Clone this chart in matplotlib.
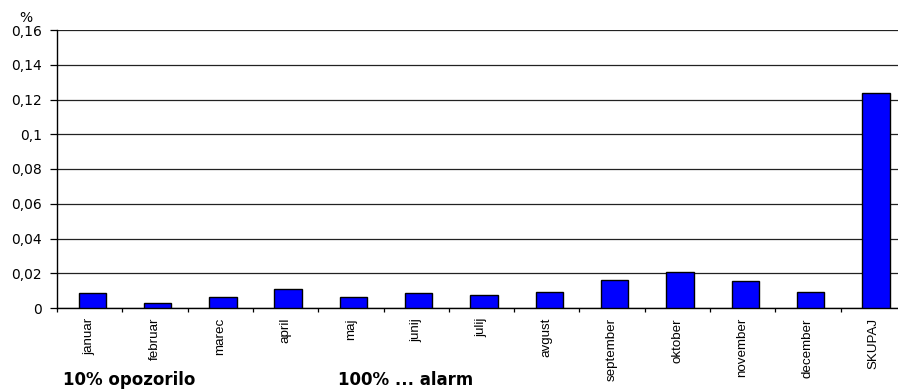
import matplotlib
matplotlib.use("Agg")
import matplotlib.pyplot as plt
import numpy as np

months = ["januar", "februar", "marec", "april", "maj", "junij", "julij",
          "avgust", "september", "oktober", "november", "december", "SKUPAJ"]
values = [0.0089, 0.0031, 0.0066, 0.0109, 0.0066, 0.0089, 0.0073,
          0.0094, 0.0159, 0.0205, 0.0154, 0.0094, 0.1239]
y_ticks = [0, 0.02, 0.04, 0.06, 0.08, 0.1, 0.12, 0.14, 0.16]
y_labels = ["0", "0,02", "0,04", "0,06", "0,08", "0,1", "0,12", "0,14", "0,16"]

W, H = 898, 390
fig = plt.figure(figsize=(W / 100, H / 100), dpi=100)
fig.patch.set_facecolor("white")

left, right_px, top_px, zero_px = 57, 57 + 13 * 65.3, 30, 308
ax = fig.add_axes([left / W, (H - zero_px) / H, (right_px - left) / W, (zero_px - top_px) / H])

x = np.arange(len(months))
ax.bar(x + 0.04, values, width=0.42, color="#0000FF", edgecolor="black", linewidth=1.0, zorder=3)

ax.set_xlim(-0.5, len(months) - 0.5)
ax.set_ylim(0, 0.16)
ax.set_yticks(y_ticks)
ax.set_yticklabels(y_labels, fontfamily="DejaVu Sans", fontsize=10)
ax.yaxis.grid(True, color="#222222", linewidth=0.9, zorder=0)
ax.set_axisbelow(True)

# ticks at category boundaries, labels at category centres
ax.set_xticks(np.arange(len(months) + 1) - 0.5)
ax.set_xticklabels([])
ax.tick_params(axis="x", direction="out", length=3, width=0.9, color="black")
ax.tick_params(axis="y", direction="out", length=5, width=0.9, color="black", pad=6)
for xi, name in zip(x, months):
    ax.annotate(name, xy=(xi, 0), xycoords=("data", "axes fraction"),
                xytext=(0, -10), textcoords="offset pixels",
                rotation=90, ha="center", va="top",
                fontfamily="Liberation Sans", fontsize=9.6)

for side in ("top", "right"):
    ax.spines[side].set_visible(False)
for side in ("left", "bottom"):
    ax.spines[side].set_color("black")
    ax.spines[side].set_linewidth(1.0)

fig.text(19 / W, 1 - 18 / H, "%", fontfamily="DejaVu Sans", fontsize=10, ha="left", va="center")
fig.text(63 / W, 1 - 380 / H, "10% opozorilo", fontfamily="DejaVu Sans",
         fontweight="bold", fontsize=12, ha="left", va="center")
fig.text(338 / W, 1 - 380 / H, "100% ... alarm", fontfamily="DejaVu Sans",
         fontweight="bold", fontsize=12, ha="left", va="center")

fig.savefig("out.png", dpi=100)
